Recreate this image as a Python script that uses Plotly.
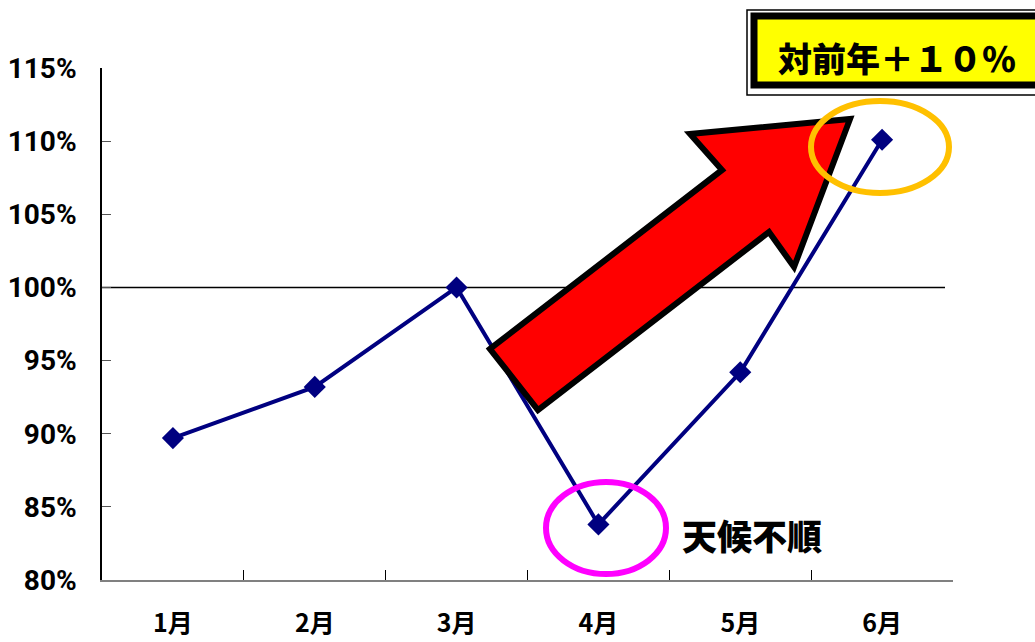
import plotly.graph_objects as go

# ---- data ----
months = ["1月", "2月", "3月", "4月", "5月", "6月"]
ratio_pct = [89.7, 93.2, 100.0, 83.8, 94.2, 110.1]
y_ticks = [80, 85, 90, 95, 100, 105, 110, 115]
y_tick_labels = [f"{v}%" for v in y_ticks]
box_text = "対前年＋１０％"
note_text = "天候不順"

# page is 1035x642; body margin is removed by post_script
W, H = 1035, 642
PAGE_L, PAGE_T, PAGE_R, PAGE_B = 102, 68, 953, 580
L, T = PAGE_L, PAGE_T
PW, PH = PAGE_R - PAGE_L, PAGE_B - PAGE_T
R, B = W - L - PW, H - T - PH


def px(x):  # page pixel -> paper
    return (x - PAGE_L) / PW


def py(y):
    return (PAGE_B - y) / PH


JP = "Noto Sans CJK JP"
NUM = "Roboto, Liberation Sans, sans-serif"

fig = go.Figure()
fig.add_trace(go.Scatter(
    x=months, y=ratio_pct, mode="lines+markers",
    line=dict(color="#000080", width=4),
    marker=dict(symbol="diamond", size=17, color="#000080"),
    showlegend=False, cliponaxis=False,
))

shapes = []
# 100% reference line
shapes.append(dict(type="line", xref="paper", yref="y", x0=0, x1=px(945), y0=100, y1=100,
                   line=dict(color="black", width=1.5), layer="below"))

# big red arrow
pts = [(490, 349), (722, 170), (690, 134), (850, 119), (794, 267), (769, 232), (538, 410)]
path = "M " + " L ".join(f"{px(a):.4f},{py(b):.4f}" for a, b in pts) + " Z"
shapes.append(dict(type="path", xref="paper", yref="paper", path=path,
                   fillcolor="#FF0000", line=dict(color="black", width=6), layer="above"))

# ellipses
shapes.append(dict(type="circle", xref="paper", yref="paper",
                   x0=px(811), x1=px(949), y0=py(193), y1=py(101),
                   line=dict(color="#FFC000", width=6), layer="above"))
shapes.append(dict(type="circle", xref="paper", yref="paper",
                   x0=px(546), x1=px(666), y0=py(574), y1=py(482),
                   line=dict(color="#FF00FF", width=6), layer="above"))

# label box (double border)
shapes.append(dict(type="rect", xref="paper", yref="paper",
                   x0=px(747), x1=px(1060), y0=py(95), y1=py(10),
                   line=dict(color="black", width=1.5), fillcolor="white", layer="above"))
shapes.append(dict(type="rect", xref="paper", yref="paper",
                   x0=px(754), x1=px(1060), y0=py(85), y1=py(16),
                   line=dict(color="black", width=7), fillcolor="#FFFF00", layer="above"))

annotations = [
    dict(xref="paper", yref="paper", x=px(897), y=py(57), text=box_text, showarrow=False,
         font=dict(family=JP, size=34, color="black", weight=900), xanchor="center", yanchor="middle"),
    dict(xref="paper", yref="paper", x=px(752), y=py(534), text=note_text, showarrow=False,
         font=dict(family=JP, size=35, color="black", weight=900), xanchor="center", yanchor="middle"),
]

fig.update_layout(
    template="none",
    width=W, height=H,
    margin=dict(l=L, r=R, t=T, b=B, pad=0, autoexpand=False),
    paper_bgcolor="white", plot_bgcolor="white",
    shapes=shapes, annotations=annotations,
    xaxis=dict(
        type="category", range=[-0.5, 5.5], showgrid=False, zeroline=False, automargin=False,
        showline=True, linecolor="#808080", linewidth=2,
        ticks="inside", tickson="boundaries", ticklen=10, tickcolor="black", tickwidth=1,
        tickfont=dict(family=JP, size=25, color="black", weight="bold"),
        ticklabelstandoff=20,
    ),
    yaxis=dict(
        range=[80, 115], tickvals=y_ticks, ticktext=y_tick_labels,
        showgrid=False, zeroline=False, automargin=False,
        showline=True, linecolor="black", linewidth=1.5,
        ticks="inside", ticklen=9, tickcolor="#555555", tickwidth=1,
        tickfont=dict(family=NUM, size=28, color="black", weight="bold"),
        ticklabelstandoff=18,
    ),
)

fig.write_html(
    "out.html",
    config={"displayModeBar": False},
    post_script="document.body.style.margin='0px';document.body.style.overflow='hidden';",
)
